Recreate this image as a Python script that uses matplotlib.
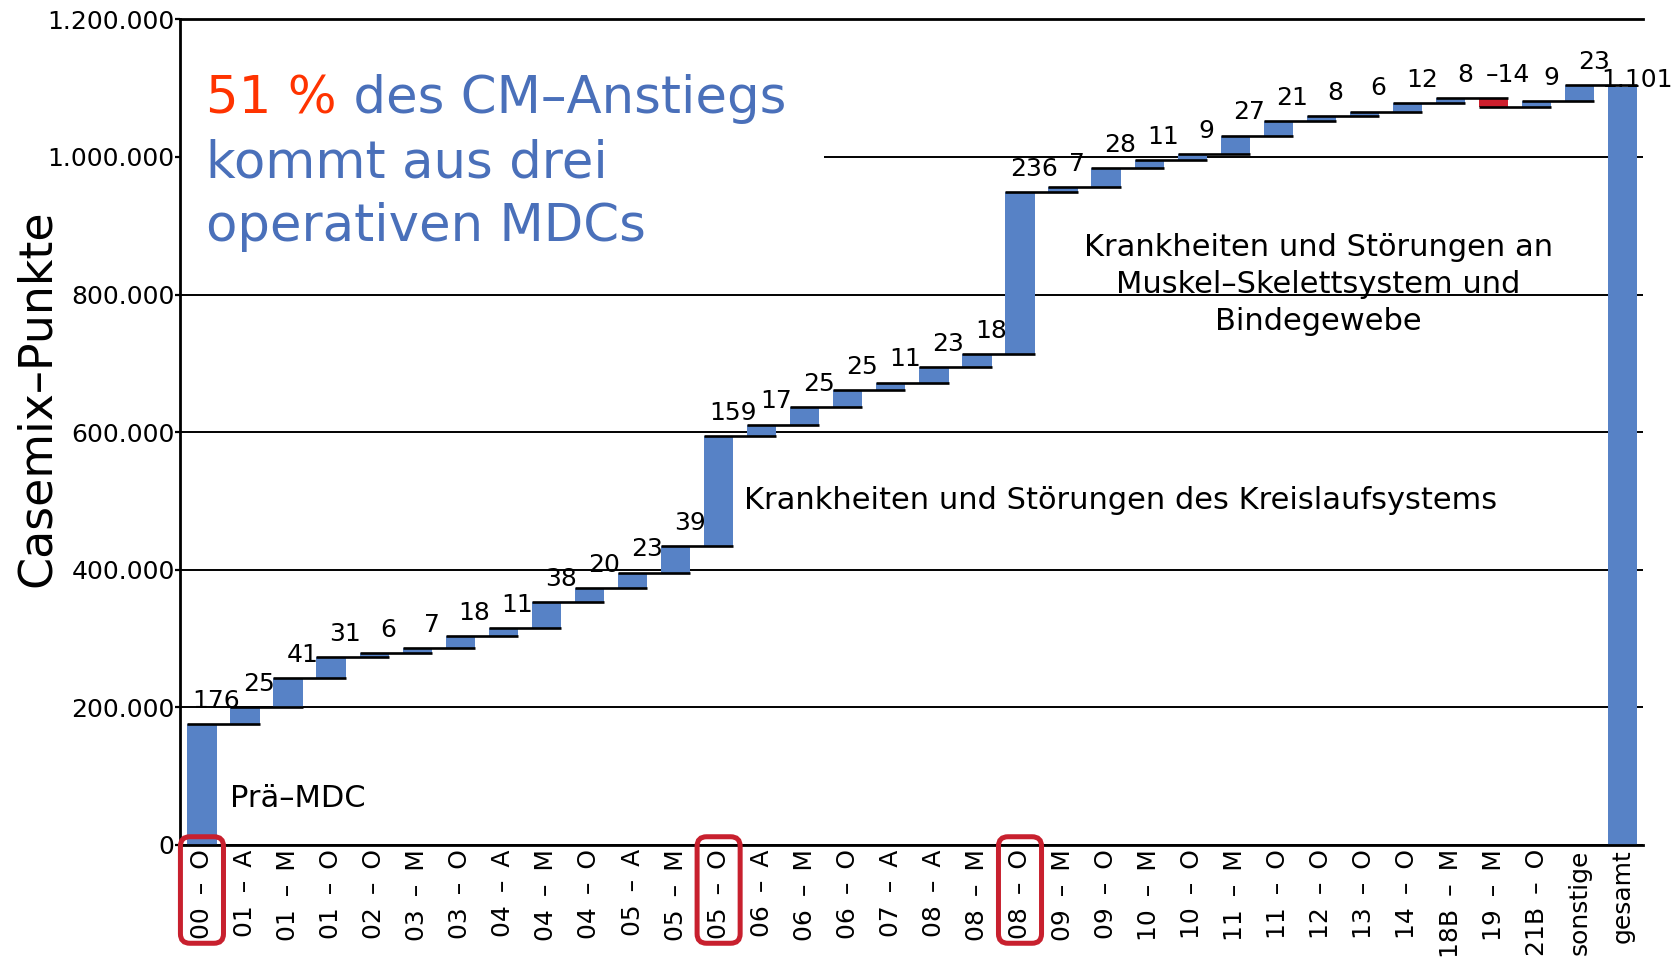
import matplotlib
matplotlib.use("Agg")
import matplotlib.pyplot as plt
import matplotlib.transforms as mtransforms
from matplotlib.patches import FancyBboxPatch, Rectangle
from matplotlib.ticker import FuncFormatter
import numpy as np

# ---------------- data (thousand Casemix points) ----------------
categories = ["00 – O", "01 – A", "01 – M", "01 – O", "02 – O", "03 – M", "03 – O",
              "04 – A", "04 – M", "04 – O", "05 – A", "05 – M", "05 – O", "06 – A",
              "06 – M", "06 – O", "07 – A", "08 – A", "08 – M", "08 – O", "09 – M",
              "09 – O", "10 – M", "10 – O", "11 – M", "11 – O", "12 – O", "13 – O",
              "14 – O", "18B – M", "19 – M", "21B – O", "sonstige"]
steps = [176, 25, 41, 31, 6, 7, 18, 11, 38, 20, 23, 39, 159, 17, 25, 25, 11, 23, 18,
         236, 7, 28, 11, 9, 27, 21, 8, 6, 12, 8, -14, 9, 23]
total_name = "gesamt"
total = 1101
highlight = ["00 – O", "05 – O", "08 – O"]
y_ticks = [0, 200000, 400000, 600000, 800000, 1000000, 1200000]

headline_red = "51 %"
headline_rest = [" des CM–Anstiegs", "kommt aus drei", "operativen MDCs"]
note_circ = "Krankheiten und Störungen des Kreislaufsystems"
note_musk = "Krankheiten und Störungen an\nMuskel–Skelettsystem und\nBindegewebe"
note_pre = "Prä–MDC"
y_label = "Casemix–Punkte"

# ---------------- style ----------------
BLUE = "#5782C6"
RED = "#CE1F2D"
BOX_RED = "#C8202E"
HEAD_BLUE = "#4A70BA"
HEAD_RED = "#FF3300"
W = 0.68

plt.rcParams["font.family"] = ["DejaVu Sans"]

fig = plt.figure(figsize=(16.81, 9.6), dpi=100)
ax = fig.add_axes([180 / 1681, 1 - 845 / 960, (1643 - 180) / 1681, (845 - 19.3) / 960])

vals = np.array(steps, dtype=float) * 1000
ends = np.cumsum(vals)
starts = ends - vals
n = len(steps)
xs = np.arange(n + 1)

heights = list(vals) + [total * 1000]
bottoms = list(starts) + [0]
colors = [BLUE if v >= 0 else RED for v in steps] + [BLUE]
ax.bar(xs, heights, bottom=bottoms, width=W, color=colors, zorder=2, linewidth=0)

# connectors
ax.hlines(ends, xs[:-1] - W / 2, xs[1:] + W / 2, color="black", lw=1.9, zorder=3)


def de_fmt(v):
    s = f"{abs(int(round(v))):,}".replace(",", ".")
    return ("–" + s) if v < 0 else s


tops = list(np.maximum(starts, ends))
for xi, v, t in zip(xs[:-1], steps, tops):
    ax.annotate(de_fmt(v), (xi + 0.33, t), xytext=(0, 8), textcoords="offset points",
                ha="center", va="bottom", fontsize=18, zorder=4)
# total label sits closer to its bar
ax.annotate(de_fmt(total), (xs[-1] + 0.33, total * 1000), xytext=(0, -3),
            textcoords="offset points", ha="center", va="bottom", fontsize=18, zorder=4)

ax.set_xlim(-0.51, n + 0.47)
ax.set_ylim(0, 1200000)
ax.set_xticks(xs)
tick_labels = [c.replace(" – ", " \u2009–\u2009 ") for c in categories + [total_name]]
ax.set_xticklabels(tick_labels, rotation=90, fontsize=18, ha="center", va="top")
ax.tick_params(axis="x", length=0, pad=3)
ax.set_yticks(y_ticks)
ax.yaxis.set_major_formatter(FuncFormatter(lambda v, p: de_fmt(v)))
ax.tick_params(axis="y", labelsize=18, direction="out", length=3.5, width=1.6, pad=0.3)

ax.set_axisbelow(True)
ax.yaxis.grid(True, color="black", lw=1.4)
for s in ["left", "bottom", "top"]:
    ax.spines[s].set_linewidth(2)
ax.spines["right"].set_visible(False)

# white panel behind headline
ax.add_patch(Rectangle((0, 0.70), 0.44, 0.27, transform=ax.transAxes, color="white",
                       zorder=1.5, lw=0))

t1 = ax.text(0.0178, 0.903, headline_red, color=HEAD_RED, fontsize=37,
             transform=ax.transAxes, va="center", ha="left", zorder=5)
ax.annotate(headline_rest[0], xy=(1, 0), xycoords=t1, va="bottom", ha="left",
            color=HEAD_BLUE, fontsize=37, zorder=5)
ax.text(0.0178, 0.825, headline_rest[1], color=HEAD_BLUE, fontsize=37,
        transform=ax.transAxes, va="center", ha="left", zorder=5)
ax.text(0.0178, 0.748, headline_rest[2], color=HEAD_BLUE, fontsize=37,
        transform=ax.transAxes, va="center", ha="left", zorder=5)

ax.text(12.6, 500000, note_circ, fontsize=22, va="center", ha="left", zorder=5)
ax.text(25.93, 814000, note_musk, fontsize=22, va="center", ha="center",
        multialignment="center", linespacing=1.35, zorder=5)
ax.text(0.65, 67000, note_pre, fontsize=22, va="center", ha="left", zorder=5)

fig.text(37 / 1681, 1 - 398 / 960, y_label, rotation=90, fontsize=33,
         ha="center", va="center")

# red rounded boxes around highlighted categories
blend = mtransforms.blended_transform_factory(ax.transData, ax.transAxes)
for name in highlight:
    i = categories.index(name)
    box = FancyBboxPatch((i - 0.5, -0.119), 1.0, 0.129,
                         boxstyle="round,pad=0,rounding_size=0.22",
                         mutation_aspect=0.052, transform=blend, clip_on=False,
                         fill=False, ec=BOX_RED, lw=3.6, zorder=6)
    ax.add_patch(box)

fig.savefig("out.png", dpi=100)
